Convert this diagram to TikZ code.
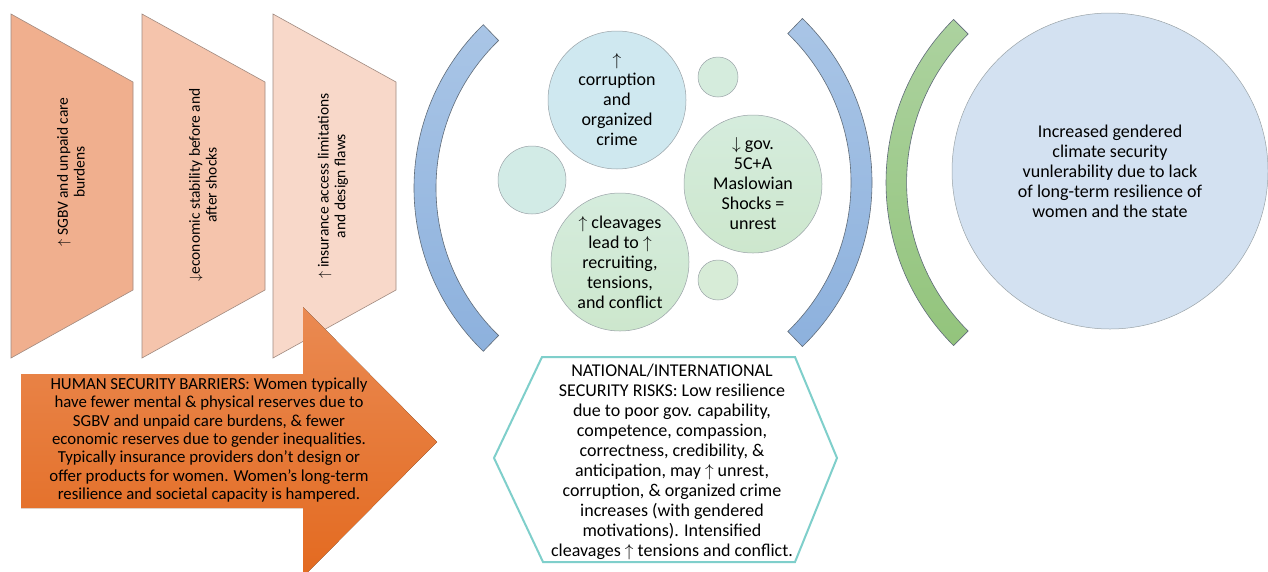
\documentclass[tikz,border=0pt]{standalone}
\usepackage{fontspec}
\setmainfont{Carlito}
\usetikzlibrary{shapes.geometric}
\definecolor{trapA}{HTML}{F0AF8E}
\definecolor{trapB}{HTML}{F5C4AC}
\definecolor{trapC}{HTML}{F8D8C9}
\definecolor{trapline}{HTML}{A08A80}
\definecolor{arrtop}{HTML}{EA8A52}
\definecolor{arrbot}{HTML}{E36A20}
\definecolor{arcbluetop}{HTML}{A9C5E6}
\definecolor{arcbluebot}{HTML}{8DB1DD}
\definecolor{arcgreentop}{HTML}{ACD29F}
\definecolor{arcgreenbot}{HTML}{93C47C}
\definecolor{arcline}{HTML}{5F6B78}
\definecolor{bigcirc}{HTML}{D3E1F1}
\definecolor{circline}{HTML}{9AA3A8}
\definecolor{hexline}{HTML}{7FCFCB}
\definecolor{cblue}{HTML}{CFE8F0}
\definecolor{cteal}{HTML}{D2EBE6}
\definecolor{cgreenA}{HTML}{D5ECDD}
\definecolor{cgreenB}{HTML}{CDE7CD}
\tikzset{
  trapbox/.style={draw=trapline, line width=0.6pt},
  traptext/.style={rotate=90, align=center, font=\fontsize{15.5}{16.8}\selectfont, inner sep=0pt},
  arcband/.style={draw=arcline, line width=0.6pt},
  bubble/.style={circle, draw=circline, line width=0.5pt, inner sep=0pt, align=center,
                 font=\fontsize{18}{20}\selectfont},
  smallbubble/.style={circle, draw=circline, line width=0.5pt, inner sep=0pt},
  bodytext/.style={align=center, inner sep=0pt}
}
\begin{document}
\begin{tikzpicture}[x=1pt, y=-1pt]
\clip (0,0) rectangle (1268,571);
\fill[white] (0,0) rectangle (1268,571);

% trapezoids
\draw[trapbox, fill=trapA] (11,14) -- (133,82) -- (133,290) -- (11,358) -- cycle;
\draw[trapbox, fill=trapB] (142,14) -- (265,82) -- (265,290) -- (142,358) -- cycle;
\draw[trapbox, fill=trapC] (273,14) -- (396,82) -- (396,290) -- (273,358) -- cycle;
\node[traptext] (t1) at (71,172) {$\uparrow$ SGBV and unpaid care\\burdens};
\node[traptext] (t2) at (203,185) {$\downarrow$economic stability before and\\after shocks};
\node[traptext] (t3) at (333,186) {$\uparrow$ insurance access limitations\\and design flaws};

% big arrow
\fill[top color=arrtop, bottom color=arrbot]
  (21,374) -- (303,374) -- (303,307) -- (437,442) -- (303,577) -- (303,508) -- (21,508) -- cycle;
\node[bodytext, font=\fontsize{16.8}{18.3}\selectfont] (human) at (209,440)
  {HUMAN SECURITY BARRIERS: Women typically\\
   have fewer mental \& physical reserves due to\\
   SGBV and unpaid care burdens, \& fewer\\
   economic reserves due to gender inequalities.\\
   Typically insurance providers don't design or\\
   offer products for women. Women's long-term\\
   resilience and societal capacity is hampered.};

% arcs
\draw[arcband, top color=arcbluetop, bottom color=arcbluebot, shift={(641,188)}]
  (134:227) arc[start angle=134, end angle=226, radius=227]
  -- (226:205) arc[start angle=226, end angle=134, radius=205] -- cycle;
\draw[arcband, top color=arcbluetop, bottom color=arcbluebot, shift={(644,182.5)}]
  (-46:228) arc[start angle=-46, end angle=46, radius=228]
  -- (46:207) arc[start angle=46, end angle=-46, radius=207] -- cycle;
\draw[arcband, top color=arcgreentop, bottom color=arcgreenbot, shift={(1116.6,182.5)}]
  (135:230.6) arc[start angle=135, end angle=225, radius=230.6]
  -- (225:210) arc[start angle=225, end angle=135, radius=210] -- cycle;

% middle bubbles
\node[bubble, minimum size=138pt, top color=cblue, bottom color=cblue!90!cteal] (corr) at (617,100)
  {$\uparrow$\\corruption\\and\\organized\\crime};
\node[smallbubble, minimum size=40pt, fill=cgreenA] (s1) at (718,77) {};
\node[smallbubble, minimum size=68pt, fill=cteal] (s2) at (532,180) {};
\node[bubble, minimum size=138pt, top color=cgreenA, bottom color=cgreenB] (gov) at (753,184)
  {$\downarrow$ gov.\\5C+A\\Maslowian\\Shocks =\\unrest};
\node[bubble, minimum size=138pt, top color=cgreenA, bottom color=cgreenB] (clv) at (620,262)
  {$\uparrow$ cleavages\\lead to $\uparrow$\\recruiting,\\tensions,\\and conflict};
\node[smallbubble, minimum size=40pt, fill=cgreenB!80!white] (s3) at (718,280) {};

% hexagon
\draw[hexline, line width=2pt, fill=white]
  (494,458) -- (542,357) -- (795,357) -- (837,458) -- (795,562) -- (543,562) -- cycle;
\node[bodytext, font=\fontsize{18}{20}\selectfont] (nat) at (672,462)
  {NATIONAL/INTERNATIONAL\\
   SECURITY RISKS: Low resilience\\
   due to poor gov. capability,\\
   competence, compassion,\\
   correctness, credibility, \&\\
   anticipation, may $\uparrow$ unrest,\\
   corruption, \& organized crime\\
   increases (with gendered\\
   motivations). Intensified\\
   cleavages $\uparrow$ tensions and conflict.};

% big circle
\node[bubble, minimum size=316pt, fill=bigcirc] (res) at (1110,171)
  {Increased gendered\\climate security\\vunlerability due to lack\\of long-term resilience of\\women and the state};
\end{tikzpicture}
\end{document}
